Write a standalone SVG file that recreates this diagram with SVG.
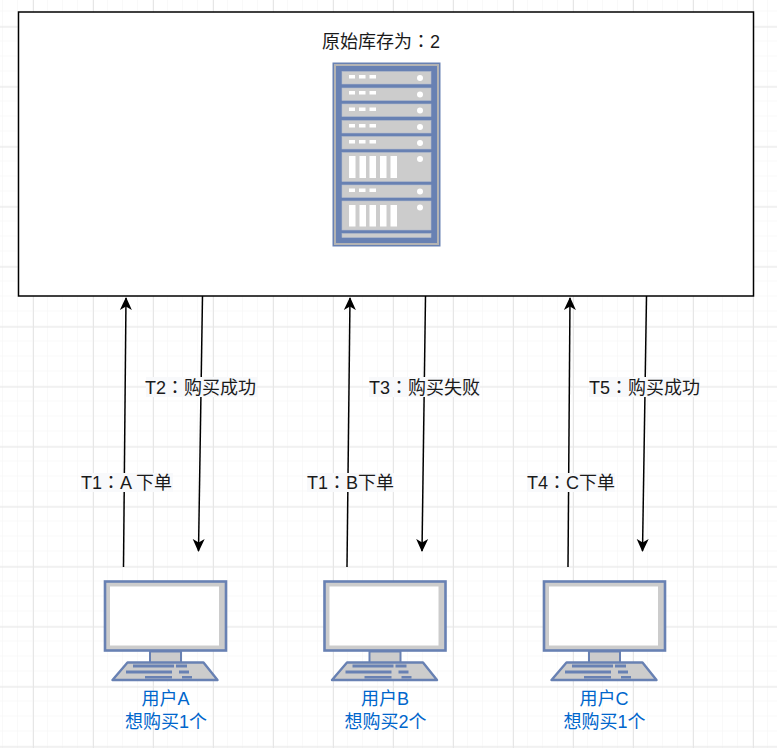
<svg xmlns="http://www.w3.org/2000/svg" width="777" height="748" viewBox="0 0 777 748">
  <style>
    text { font-family: "Liberation Sans", "Noto Sans CJK SC", sans-serif; }
    .lbl { font-size: 18px; fill: #1a1a1a; }
    .colon { font-family: "Noto Sans CJK TC", sans-serif; }
    .lblbg { fill: #f8f9fb; }
    .user { font-size: 18px; fill: #0066cc; text-anchor: middle; }
    .wire { fill: none; stroke: #000; stroke-width: 1.5; marker-end: url(#head); }
    .unit { fill: #cccccc; stroke: #b4bccb; stroke-width: .6; }
    .led { fill: #fff; }
  </style>
  <defs>
    <pattern id="minor" width="15" height="15" patternUnits="userSpaceOnUse" x="3" y="11.5">
      <path d="M15 0V15M0 15H15" fill="none" stroke="#f3f3f3" stroke-width="1"/>
    </pattern>
    <pattern id="major" width="60" height="60" patternUnits="userSpaceOnUse" x="33" y="26.5">
      <path d="M.5 0V60M0 .5H60" fill="none" stroke="#e6e6e6" stroke-width="1"/>
    </pattern>
    <marker id="head" markerUnits="userSpaceOnUse" markerWidth="14" markerHeight="14" viewBox="0 0 14 14" refX="12" refY="7" orient="auto">
      <path d="M0 1L13 7L0 13L3.5 7Z" fill="#000"/>
    </marker>
    <g id="pc">
      <rect x="1" y="1" width="121" height="69" fill="#cccccc" stroke="#6881b3" stroke-width="2.6"/>
      <rect x="6" y="6" width="109" height="59" fill="#fff"/>
      <rect x="46" y="71" width="31" height="11.5" fill="#cccccc" stroke="#6881b3" stroke-width="2"/>
      <path d="M23.500 82H99.500L113.500 99.500H8.500Z" fill="#cccccc" stroke="#6881b3" stroke-width="2.400" stroke-linejoin="round"/>
      <path d="M29 84H70V87H29ZM22 90H68V93H22ZM41 95.500H68V98H41ZM72 84H83V87H72ZM75 90H85V93H75ZM78 95.500H88V98H78Z" fill="#6881b3"/>
    </g>
  </defs>

  <rect width="777" height="748" fill="#fff"/>
  <rect width="777" height="748" fill="url(#minor)"/>
  <rect width="777" height="748" fill="url(#major)"/>

  <g id="store">
    <rect x="18.500" y="12" width="735" height="284" fill="#fff" stroke="#000" stroke-width="1.500"/>
    <text x="322" y="48" font-size="18" fill="#1a1a1a">原始库存为<tspan class="colon">：</tspan>2</text>
    <g id="rack">
      <rect x="332.500" y="62.500" width="108" height="184" fill="#6881b3"/>
      <rect x="334" y="64" width="105" height="181" fill="#b3b3b3"/>
      <rect x="336" y="66" width="101" height="177" fill="#6881b3"/>
      <rect x="342" y="71.500" width="89" height="12.500" class="unit"/>
      <rect x="342" y="88" width="89" height="12.500" class="unit"/>
      <rect x="342" y="104" width="89" height="12.500" class="unit"/>
      <rect x="342" y="120.500" width="89" height="12.500" class="unit"/>
      <rect x="342" y="136.500" width="89" height="12.500" class="unit"/>
      <rect x="342" y="152.500" width="89" height="29" class="unit"/>
      <rect x="342" y="185" width="89" height="12.500" class="unit"/>
      <rect x="342" y="201" width="89" height="29" class="unit"/>
      <rect x="342" y="233.500" width="89" height="4" class="unit"/>
      <path class="led" d="M349 75h6v3.500h-6zM359 75h6.500v3.500h-6.500zM369.500 75h6.500v3.500h-6.500zM349 91h6v3.500h-6zM359 91h6.500v3.500h-6.500zM369.500 91h6.500v3.500h-6.500zM349 107.500h6v3.500h-6zM359 107.500h6.500v3.500h-6.500zM369.500 107.500h6.500v3.500h-6.500zM349 124h6v3.500h-6zM359 124h6.500v3.500h-6.500zM369.500 124h6.500v3.500h-6.500zM349 140h6v3.500h-6zM359 140h6.500v3.500h-6.500zM369.500 140h6.500v3.500h-6.500zM349 188.500h6v3.500h-6zM359 188.500h6.500v3.500h-6.500zM369.500 188.500h6.500v3.500h-6.500z"/>
      <path class="led" d="M349 156h6.500v22h-6.500zM359.500 156h6.500v22h-6.500zM369.500 156h6.500v22h-6.500zM380 156h6.500v22h-6.500zM390.500 156h6.500v22h-6.500zM349 205h6.500v21.500h-6.500zM359.500 205h6.500v21.500h-6.500zM369.500 205h6.500v21.500h-6.500zM380 205h6.500v21.500h-6.500zM390.500 205h6.500v21.500h-6.500z"/>
      <g class="led">
        <circle cx="420" cy="78" r="3"/><circle cx="420" cy="94.500" r="3"/><circle cx="420" cy="110.500" r="3"/><circle cx="420" cy="127" r="3"/><circle cx="420" cy="143" r="3"/><circle cx="420" cy="159" r="3"/><circle cx="420" cy="191.500" r="3"/><circle cx="420" cy="207.500" r="3"/>
      </g>
    </g>
  </g>

  <g id="connectors">
    <path class="wire" d="M123.500 567L126 298"/>
    <path class="wire" d="M202.500 296L198.500 551"/>
    <path class="wire" d="M347 567L350 298"/>
    <path class="wire" d="M425.500 296L422 551"/>
    <path class="wire" d="M568 567L570 298"/>
    <path class="wire" d="M646.500 296L642.500 551"/>
    <g id="edge-labels">
      <rect class="lblbg" x="146" y="377" width="111" height="20"/>
      <text class="lbl" x="145" y="394">T2<tspan class="colon">：</tspan>购买成功</text>
      <rect class="lblbg" x="81" y="473" width="92" height="19"/>
      <text class="lbl" x="81" y="489">T1<tspan class="colon">：</tspan>A 下单</text>
      <rect class="lblbg" x="369" y="377" width="111" height="20"/>
      <text class="lbl" x="369" y="394">T3<tspan class="colon">：</tspan>购买失败</text>
      <rect class="lblbg" x="307" y="473" width="87" height="19"/>
      <text class="lbl" x="307" y="489">T1<tspan class="colon">：</tspan>B下单</text>
      <rect class="lblbg" x="589" y="377" width="111" height="20"/>
      <text class="lbl" x="589" y="394">T5<tspan class="colon">：</tspan>购买成功</text>
      <rect class="lblbg" x="527" y="473" width="88" height="19"/>
      <text class="lbl" x="527" y="489">T4<tspan class="colon">：</tspan>C下单</text>
    </g>
  </g>

  <g id="user-a">
    <use href="#pc" x="104" y="580.500"/>
    <text class="user" x="165.500" y="705">用户A</text>
    <text class="user" x="166" y="728">想购买1个</text>
  </g>
  <g id="user-b">
    <use href="#pc" x="323.500" y="580.500"/>
    <text class="user" x="385" y="705">用户B</text>
    <text class="user" x="385.500" y="728">想购买2个</text>
  </g>
  <g id="user-c">
    <use href="#pc" x="543" y="580.500"/>
    <text class="user" x="604" y="705">用户C</text>
    <text class="user" x="604.500" y="728">想购买1个</text>
  </g>
</svg>
